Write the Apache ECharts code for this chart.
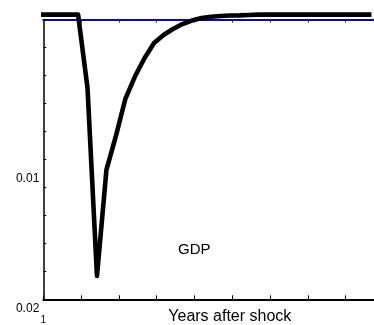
<!DOCTYPE html>
<html>
<head>
<meta charset="utf-8">
<script src="https://cdn.jsdelivr.net/npm/echarts@6/dist/echarts.min.js"></script>
<style>
html,body{margin:0;padding:0;background:#fff;}
#c{width:374px;height:325px;}
</style>
</head>
<body>
<div id="c"></div>
<script>
// Years after shock (x) and GDP deviation (y, axis inverted: 0 at top, 0.02 at bottom)
var years = [1.0, 1.92, 2.17, 2.42, 2.67, 2.92, 3.17, 3.43, 3.68, 3.93, 4.18, 4.43, 4.68, 4.93, 5.19, 5.44, 5.69, 5.94, 6.19, 6.44, 6.69, 9.62];
var gdp = [-0.00036, -0.00036, 0.00489, 0.01833, 0.01075, 0.00832, 0.00567, 0.00403, 0.00274, 0.00167, 0.00109, 0.00067, 0.00031, 0.00006, -0.00012, -0.00021, -0.00026, -0.00030, -0.00031, -0.00034, -0.00036, -0.00036];
var yTickLabels = [0.01, 0.02];
var xTickLabels = [1];
var seriesName = 'GDP';
var xName = 'Years after shock';

var points = years.map(function (x, i) { return [x, gdp[i]]; });
var FONT = 'Liberation Sans, Arial, sans-serif';

var chart = echarts.init(document.getElementById('c'), null, {renderer: 'canvas'});
chart.setOption({
  animation: false,
  backgroundColor: '#fff',
  grid: {left: 43.3, top: 19.7, width: 378, height: 279.6, containLabel: false, outerBoundsMode: 'none'},
  xAxis: [{
    type: 'value', position: 'bottom', min: 1, max: 11, interval: 1,
    axisLine: {show: true, onZero: false, lineStyle: {color: '#000', width: 2}},
    axisTick: {show: true, inside: true, length: 4, lineStyle: {color: '#000', width: 1}},
    splitLine: {show: false},
    axisLabel: {show: true, customValues: xTickLabels, margin: 16, fontSize: 10, color: '#000', fontFamily: FONT,
      formatter: function (v) { return String(v); }},
    name: xName, nameLocation: 'middle', nameGap: 9, nameMoveOverlap: false,
    nameTextStyle: {fontSize: 16, color: '#000', fontFamily: FONT, padding: [0, 5, 0, 0]}
  }, {
    type: 'value', position: 'top', min: 1, max: 11, interval: 1,
    axisLine: {show: true, onZero: false, lineStyle: {color: '#0a0aa8', width: 2.2}},
    axisTick: {show: true, inside: true, length: 3, lineStyle: {color: '#333', width: 1}},
    splitLine: {show: false},
    axisLabel: {show: false}
  }],
  yAxis: [{
    type: 'value', inverse: true, min: 0, max: 0.02, interval: 0.002,
    axisLine: {show: true, onZero: false, lineStyle: {color: '#000', width: 1.5}},
    axisTick: {show: true, inside: true, length: 3, lineStyle: {color: '#000', width: 1}},
    splitLine: {show: false},
    axisLabel: {show: false}
  }, {
    type: 'value', inverse: true, min: -0.001331, max: 0.020177, position: 'left',
    axisLine: {show: false, onZero: false},
    axisTick: {show: false},
    splitLine: {show: false},
    axisLabel: {show: true, customValues: yTickLabels, margin: 4, fontSize: 12,
      color: '#000', fontFamily: FONT, verticalAlign: 'top', padding: [6, 0, 0, 0],
      formatter: function (v) { return String(v); }}
  }],
  series: [{
    name: seriesName, type: 'line', xAxisIndex: 0, yAxisIndex: 0,
    data: points, showSymbol: false, symbol: 'none', clip: false,
    lineStyle: {color: '#000', width: 4.6, cap: 'square', join: 'round'}
  }],
  graphic: [{
    type: 'text', left: 178, top: 242,
    style: {text: seriesName, fontSize: 15, fill: '#000', fontFamily: FONT}
  }]
});
</script>
</body>
</html>
